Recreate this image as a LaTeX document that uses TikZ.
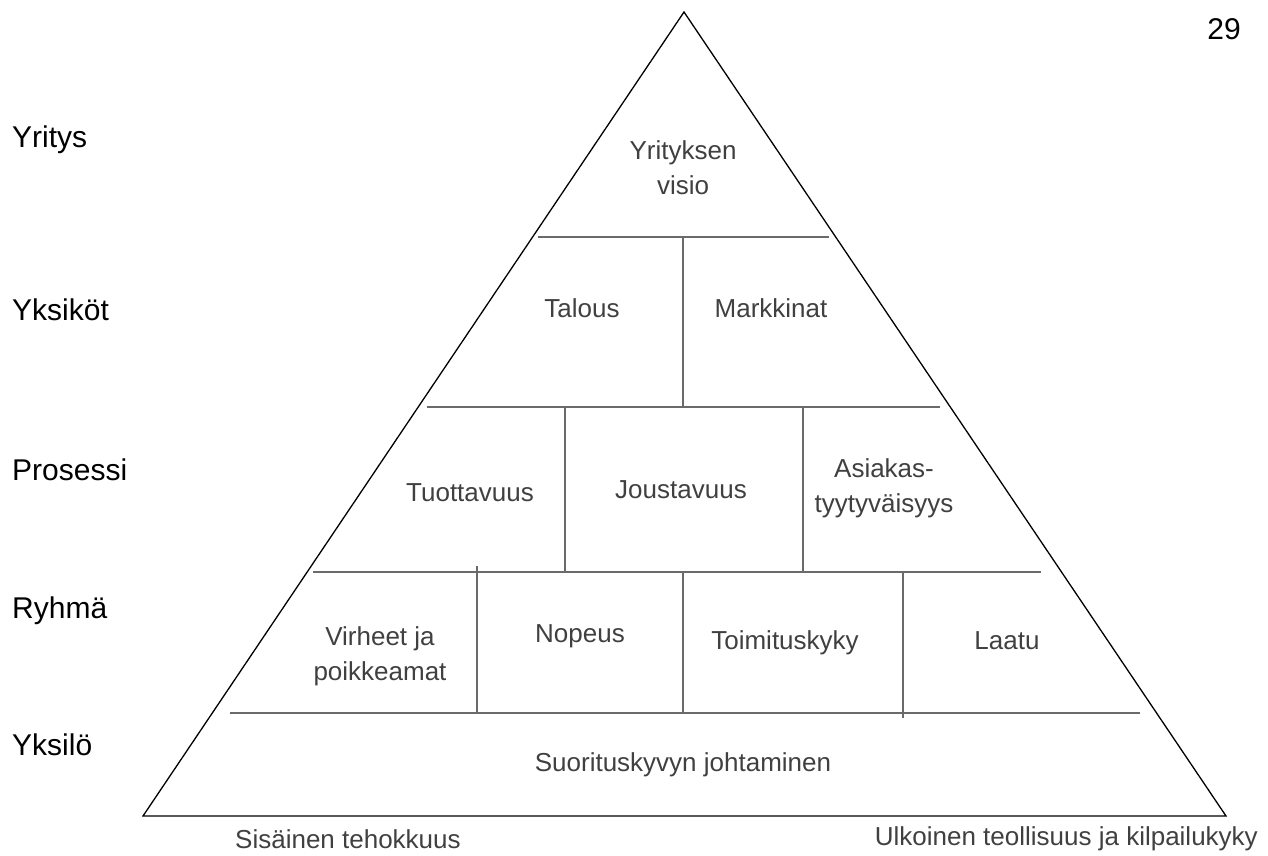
\documentclass[tikz,border=0pt]{standalone}
\usepackage{fontspec}
\setmainfont{Liberation Sans}
\definecolor{txtgray}{HTML}{404040}
\definecolor{linegray}{HTML}{6A6A6A}

\tikzstyle{cell} = [text=txtgray, align=center, inner sep=0pt, font=\fontsize{26}{35}\selectfont]
\tikzstyle{level} = [anchor=west, inner sep=0pt, font=\fontsize{30}{36}\selectfont]
\tikzstyle{foot} = [text=txtgray, inner sep=0pt, font=\fontsize{26}{30}\selectfont]
\tikzstyle{divider} = [draw=linegray, line width=1.4pt]

\begin{document}
\begin{tikzpicture}[x=1pt, y=-1pt]
\useasboundingbox (0,0) rectangle (1268,855);

% pyramid outline
\coordinate (apex) at (684,12);
\coordinate (baseL) at (143,816);
\coordinate (baseR) at (1226,816);
\draw[line width=1.3pt] (apex) -- (baseL) -- (baseR) -- cycle;

% horizontal layers
\draw[divider] (538,237) -- (829,237);
\draw[divider] (427,407) -- (940,407);
\draw[divider] (313,572) -- (1041,572);
\draw[divider] (230,713) -- (1140,713);

% vertical splits
\draw[divider] (683,237) -- (683,407);
\draw[divider] (565,407) -- (565,572);
\draw[divider] (803,407) -- (803,572);
\draw[divider] (477,566) -- (477,713);
\draw[divider] (683,572) -- (683,713);
\draw[divider] (903,572) -- (903,718);

% cells
\node[cell] (visio) at (683,168) {Yrityksen\\visio};
\node[cell] (talous) at (582,308) {Talous};
\node[cell] (markkinat) at (771,308) {Markkinat};
\node[cell] (tuottavuus) at (470,493) {Tuottavuus};
\node[cell] (joustavuus) at (681,490) {Joustavuus};
\node[cell] (asiakas) at (884,488) {Asiakas-\\tyytyväisyys};
\node[cell] (virheet) at (380,656) {Virheet ja\\poikkeamat};
\node[cell] (nopeus) at (580,636) {Nopeus};
\node[cell] (toimitus) at (785,643) {Toimituskyky};
\node[cell] (laatu) at (1007,641) {Laatu};
\node[cell] (johtaminen) at (683,765) {Suorituskyvyn johtaminen};

% levels
\node[level] (yritys) at (12,140) {Yritys};
\node[level] (yksikot) at (12,310) {Yksiköt};
\node[level] (prosessi) at (12,470) {Prosessi};
\node[level] (ryhma) at (12,611) {Ryhmä};
\node[level] (yksilo) at (12,745) {Yksilö};

% footer
\node[foot, anchor=west] (sisainen) at (235,839) {Sisäinen tehokkuus};
\node[foot, anchor=east] (ulkoinen) at (1258,839) {Ulkoinen teollisuus ja kilpailukyky};
\node[level, anchor=center] (sivu) at (1224,29) {29};
\end{tikzpicture}
\end{document}
